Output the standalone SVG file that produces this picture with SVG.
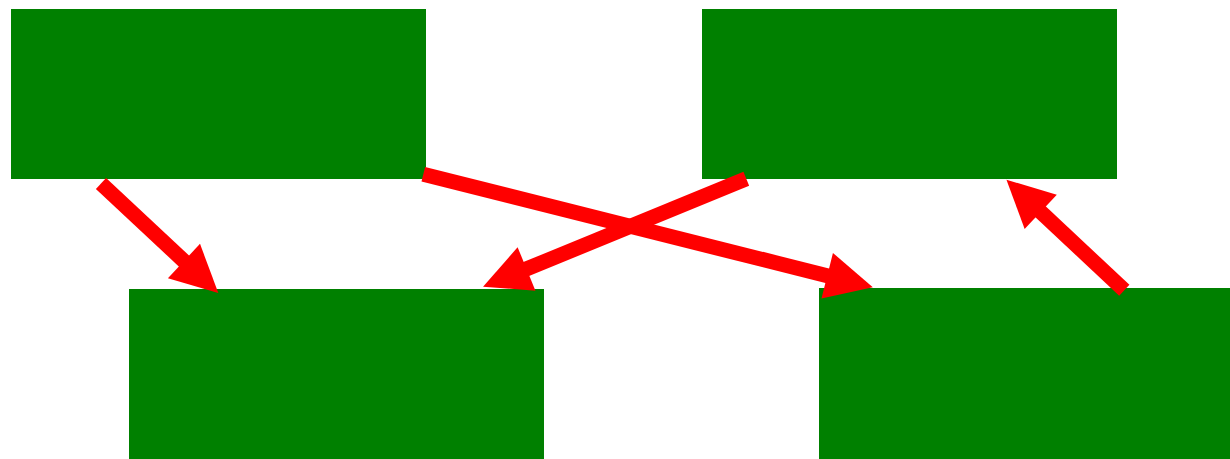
<svg xmlns="http://www.w3.org/2000/svg" width="1230" height="459" viewBox="0 0 1230 459">
<style>
.node{fill:#008000}
.edge{stroke:#ff0000;stroke-width:15;fill:none;marker-end:url(#head)}
</style>
<defs>
<marker id="head" markerUnits="userSpaceOnUse" markerWidth="48" markerHeight="48" refX="1" refY="23.5" orient="auto" overflow="visible">
<path d="M0,0 L47,23.5 L0,47 Z" fill="#ff0000"/>
</marker>
</defs>
<g id="n1"><rect class="node" x="11" y="9" width="415" height="170"/></g>
<g id="n2"><rect class="node" x="702" y="9" width="415" height="170"/></g>
<g id="n3"><rect class="node" x="129" y="289" width="415" height="170"/></g>
<g id="n4"><rect class="node" x="819" y="288" width="415" height="171"/></g>
<g id="edges">
<path class="edge" d="M101,183.5 L184.7,261.7"/>
<path class="edge" d="M423.3,174.2 L828.2,276"/>
<path class="edge" d="M746.3,178.8 L525.6,269.3"/>
<path class="edge" d="M1124.3,290.3 L1040,211.2"/>
</g>
</svg>
